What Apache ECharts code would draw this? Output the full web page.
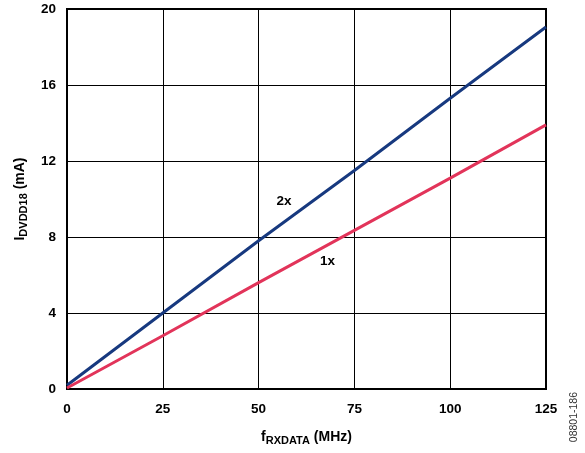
<!DOCTYPE html>
<html>
<head>
<meta charset="utf-8">
<script src="https://cdn.jsdelivr.net/npm/echarts@6/dist/echarts.min.js"></script>
<style>
  html,body{margin:0;padding:0;background:#fff;}
  #chart{width:585px;height:453px;}
</style>
</head>
<body>
<div id="chart"></div>
<script>
  // data
  var freqs = [0, 25, 50, 75, 100, 125];
  var current2x = [0.2, 4.0, 7.8, 11.5, 15.3, 19.05];
  var current1x = [0.05, 2.8, 5.6, 8.35, 11.1, 13.9];
  var xTicks = [0, 25, 50, 75, 100, 125];
  var yTicks = [0, 4, 8, 12, 16, 20];

  function pairs(xs, ys){
    return xs.map(function(x, i){ return [x, ys[i]]; });
  }

  var font = '"Liberation Sans", Arial, sans-serif';
  var chart = echarts.init(document.getElementById('chart'));
  var option = {
    animation:false,
    backgroundColor:'#fff',
    grid:{
      left:67, right:39, top:9, bottom:64,
      show:true, borderColor:'#000', borderWidth:2
    },
    xAxis:{
      type:'value',
      min:xTicks[0], max:xTicks[xTicks.length-1], interval:25,
      axisLine:{lineStyle:{color:'#000', width:2}},
      axisTick:{show:false},
      splitLine:{lineStyle:{color:'#000', width:1}},
      axisLabel:{color:'#000', fontFamily:font, fontWeight:'bold', fontSize:13.5, margin:13},
      name:'{m|f}{s|RXDATA}{m| (MHz)}',
      nameLocation:'middle', nameGap:40,
      nameTextStyle:{
        rich:{
          m:{fontFamily:font, fontWeight:'bold', fontSize:14, color:'#000'},
          s:{fontFamily:font, fontWeight:'bold', fontSize:11, color:'#000', padding:[6,0,0,0]}
        }
      }
    },
    yAxis:{
      type:'value',
      min:yTicks[0], max:yTicks[yTicks.length-1], interval:4,
      axisLine:{show:true, lineStyle:{color:'#000', width:2}},
      axisTick:{show:false},
      splitLine:{lineStyle:{color:'#000', width:1}},
      axisLabel:{color:'#000', fontFamily:font, fontWeight:'bold', fontSize:13.5, margin:11},
      name:'{m|I}{s|DVDD18}{m| (mA)}',
      nameLocation:'middle', nameGap:38, nameRotate:90,
      nameTextStyle:{
        rich:{
          m:{fontFamily:font, fontWeight:'bold', fontSize:14, color:'#000'},
          s:{fontFamily:font, fontWeight:'bold', fontSize:11, color:'#000', padding:[6,0,0,0]}
        }
      }
    },
    series:[
      {
        name:'2x', type:'line', data:pairs(freqs, current2x),
        symbol:'none', lineStyle:{color:'#17397f', width:3},
        markPoint:{
          symbol:'circle', symbolSize:0,
          label:{show:true, formatter:'2x', color:'#000', fontFamily:font, fontWeight:'bold', fontSize:13.5},
          data:[{coord:[56.6, 9.9]}]
        }
      },
      {
        name:'1x', type:'line', data:pairs(freqs, current1x),
        symbol:'none', lineStyle:{color:'#e2345a', width:3},
        markPoint:{
          symbol:'circle', symbolSize:0,
          label:{show:true, formatter:'1x', color:'#000', fontFamily:font, fontWeight:'bold', fontSize:13.5},
          data:[{coord:[68, 6.7]}]
        }
      }
    ],
    graphic:[{
      type:'text', left:569, top:392, rotation:Math.PI/2,
      style:{text:'08801-186', fill:'#333', font:'10.5px ' + font}
    }]
  };
  chart.setOption(option);
</script>
</body>
</html>
